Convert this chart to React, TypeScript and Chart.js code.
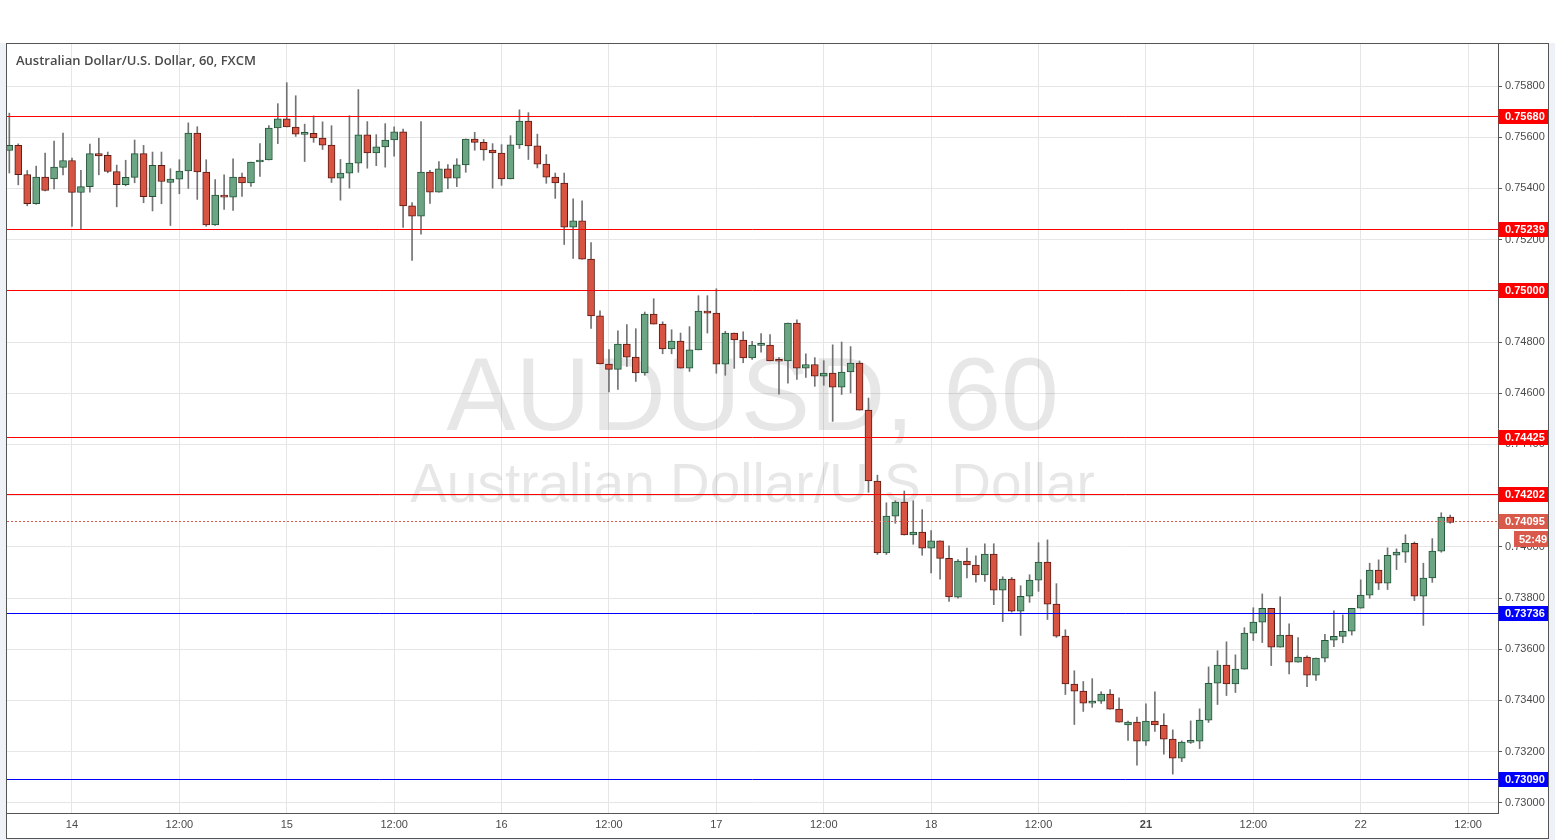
import React, { useEffect, useRef } from "react";
import { Chart, registerables } from "chart.js";

Chart.register(...registerables);

// ---- Data (hourly AUD/USD candles, first candle = 13th 17:00) ----
const opens = [
  0.75548, 0.75568, 0.75454, 0.75340, 0.75444, 0.75437, 0.75482, 0.75509, 0.75384, 0.75407,
  0.75536, 0.75529, 0.75466, 0.75415, 0.75443, 0.75536, 0.75368, 0.75490, 0.75423, 0.75436,
  0.75468, 0.75616, 0.75464, 0.75257, 0.75374, 0.75366, 0.75444, 0.75421, 0.75503, 0.75511,
  0.75636, 0.75672, 0.75640, 0.75611, 0.75615, 0.75597, 0.75569, 0.75440, 0.75460, 0.75499,
  0.75609, 0.75539, 0.75562, 0.75589, 0.75621, 0.75332, 0.75292, 0.75464, 0.75385, 0.75476,
  0.75440, 0.75492, 0.75593, 0.75580, 0.75550, 0.75538, 0.75437, 0.75570, 0.75663, 0.75566,
  0.75495, 0.75444, 0.75421, 0.75249, 0.75273, 0.75124, 0.74902, 0.74714, 0.74693, 0.74792,
  0.74741, 0.74679, 0.74909, 0.74870, 0.74773, 0.74804, 0.74698, 0.74769, 0.74921, 0.74913,
  0.74713, 0.74835, 0.74808, 0.74738, 0.74787, 0.74788, 0.74727, 0.74726, 0.74874, 0.74698,
  0.74712, 0.74667, 0.74679, 0.74624, 0.74683, 0.74718, 0.74534, 0.74257, 0.73976, 0.74120,
  0.74175, 0.74046, 0.74058, 0.73995, 0.74023, 0.73955, 0.73803, 0.73944, 0.73929, 0.73890,
  0.73972, 0.73831, 0.73874, 0.73749, 0.73807, 0.73870, 0.73940, 0.73776, 0.73651, 0.73464,
  0.73436, 0.73389, 0.73397, 0.73425, 0.73366, 0.73304, 0.73315, 0.73241, 0.73319, 0.73303,
  0.73249, 0.73174, 0.73236, 0.73241, 0.73323, 0.73467, 0.73538, 0.73464, 0.73522, 0.73663,
  0.73706, 0.73760, 0.73608, 0.73655, 0.73549, 0.73569, 0.73499, 0.73565, 0.73635, 0.73650,
  0.73670, 0.73760, 0.73811, 0.73909, 0.73858, 0.73967, 0.73979, 0.74014, 0.73807, 0.73878,
  0.73983, 0.74116,
];

const highs = [
  0.75694, 0.75574, 0.75470, 0.75487, 0.75538, 0.75585, 0.75616, 0.75518, 0.75471, 0.75573,
  0.75596, 0.75542, 0.75491, 0.75510, 0.75589, 0.75568, 0.75542, 0.75542, 0.75477, 0.75512,
  0.75656, 0.75641, 0.75512, 0.75434, 0.75453, 0.75516, 0.75460, 0.75503, 0.75575, 0.75645,
  0.75731, 0.75813, 0.75762, 0.75651, 0.75683, 0.75660, 0.75645, 0.75513, 0.75684, 0.75786,
  0.75661, 0.75610, 0.75653, 0.75641, 0.75632, 0.75345, 0.75661, 0.75471, 0.75505, 0.75493,
  0.75516, 0.75593, 0.75619, 0.75591, 0.75575, 0.75571, 0.75606, 0.75707, 0.75696, 0.75612,
  0.75532, 0.75460, 0.75460, 0.75359, 0.75351, 0.75188, 0.74922, 0.74770, 0.74844, 0.74868,
  0.74852, 0.74917, 0.74969, 0.74879, 0.74848, 0.74835, 0.74860, 0.74981, 0.74981, 0.75008,
  0.74842, 0.74835, 0.74840, 0.74803, 0.74833, 0.74829, 0.74739, 0.74874, 0.74887, 0.74754,
  0.74739, 0.74727, 0.74789, 0.74800, 0.74782, 0.74726, 0.74581, 0.74280, 0.74172, 0.74180,
  0.74218, 0.74180, 0.74145, 0.74063, 0.74023, 0.74004, 0.73950, 0.73995, 0.73965, 0.74012,
  0.74012, 0.73883, 0.73880, 0.73848, 0.73891, 0.74016, 0.74027, 0.73856, 0.73676, 0.73516,
  0.73474, 0.73485, 0.73434, 0.73442, 0.73410, 0.73319, 0.73335, 0.73387, 0.73434, 0.73348,
  0.73285, 0.73242, 0.73320, 0.73367, 0.73531, 0.73594, 0.73629, 0.73578, 0.73684, 0.73762,
  0.73816, 0.73760, 0.73805, 0.73699, 0.73645, 0.73574, 0.73565, 0.73658, 0.73750, 0.73734,
  0.73760, 0.73871, 0.73936, 0.73949, 0.73996, 0.73992, 0.74047, 0.74019, 0.73936, 0.74032,
  0.74133, 0.74124,
];

const lows = [
  0.75460, 0.75414, 0.75332, 0.75338, 0.75390, 0.75398, 0.75453, 0.75252, 0.75242, 0.75385,
  0.75453, 0.75461, 0.75328, 0.75410, 0.75422, 0.75344, 0.75312, 0.75340, 0.75255, 0.75379,
  0.75400, 0.75357, 0.75252, 0.75255, 0.75318, 0.75314, 0.75369, 0.75408, 0.75447, 0.75511,
  0.75575, 0.75640, 0.75603, 0.75505, 0.75580, 0.75552, 0.75423, 0.75354, 0.75401, 0.75463,
  0.75479, 0.75489, 0.75483, 0.75526, 0.75248, 0.75119, 0.75221, 0.75341, 0.75385, 0.75399,
  0.75407, 0.75463, 0.75549, 0.75510, 0.75401, 0.75412, 0.75437, 0.75556, 0.75513, 0.75480,
  0.75420, 0.75361, 0.75181, 0.75127, 0.75124, 0.74853, 0.74714, 0.74605, 0.74615, 0.74705,
  0.74646, 0.74670, 0.74870, 0.74754, 0.74754, 0.74698, 0.74685, 0.74769, 0.74835, 0.74678,
  0.74670, 0.74697, 0.74719, 0.74732, 0.74760, 0.74726, 0.74596, 0.74639, 0.74654, 0.74662,
  0.74627, 0.74631, 0.74490, 0.74595, 0.74601, 0.74534, 0.74213, 0.73970, 0.73970, 0.74092,
  0.74046, 0.74010, 0.73967, 0.73898, 0.73874, 0.73787, 0.73799, 0.73878, 0.73862, 0.73865,
  0.73774, 0.73708, 0.73745, 0.73654, 0.73783, 0.73826, 0.73716, 0.73646, 0.73423, 0.73306,
  0.73357, 0.73373, 0.73388, 0.73366, 0.73315, 0.73244, 0.73147, 0.73224, 0.73279, 0.73190,
  0.73112, 0.73161, 0.73232, 0.73212, 0.73314, 0.73384, 0.73419, 0.73431, 0.73522, 0.73634,
  0.73626, 0.73536, 0.73608, 0.73503, 0.73549, 0.73454, 0.73478, 0.73550, 0.73610, 0.73625,
  0.73655, 0.73760, 0.73799, 0.73833, 0.73833, 0.73911, 0.73939, 0.73790, 0.73693, 0.73861,
  0.73979, 0.74092,
];

const closes = [
  0.75568, 0.75454, 0.75340, 0.75444, 0.75392, 0.75483, 0.75509, 0.75384, 0.75407, 0.75536,
  0.75527, 0.75466, 0.75415, 0.75443, 0.75536, 0.75368, 0.75490, 0.75427, 0.75436, 0.75468,
  0.75616, 0.75464, 0.75257, 0.75374, 0.75366, 0.75444, 0.75421, 0.75503, 0.75511, 0.75636,
  0.75672, 0.75640, 0.75612, 0.75616, 0.75597, 0.75569, 0.75440, 0.75460, 0.75499, 0.75609,
  0.75539, 0.75562, 0.75589, 0.75621, 0.75332, 0.75292, 0.75464, 0.75385, 0.75476, 0.75440,
  0.75492, 0.75593, 0.75580, 0.75550, 0.75539, 0.75437, 0.75570, 0.75663, 0.75566, 0.75495,
  0.75444, 0.75421, 0.75249, 0.75273, 0.75124, 0.74902, 0.74714, 0.74693, 0.74792, 0.74741,
  0.74679, 0.74909, 0.74870, 0.74773, 0.74804, 0.74698, 0.74769, 0.74921, 0.74913, 0.74713,
  0.74835, 0.74808, 0.74738, 0.74788, 0.74790, 0.74726, 0.74725, 0.74874, 0.74698, 0.74712,
  0.74667, 0.74679, 0.74624, 0.74683, 0.74718, 0.74534, 0.74257, 0.73976, 0.74120, 0.74175,
  0.74046, 0.74058, 0.73995, 0.74023, 0.73955, 0.73804, 0.73944, 0.73929, 0.73890, 0.73972,
  0.73831, 0.73874, 0.73749, 0.73807, 0.73870, 0.73940, 0.73776, 0.73651, 0.73464, 0.73436,
  0.73389, 0.73397, 0.73425, 0.73366, 0.73315, 0.73315, 0.73241, 0.73319, 0.73304, 0.73249,
  0.73174, 0.73237, 0.73241, 0.73323, 0.73467, 0.73538, 0.73464, 0.73522, 0.73663, 0.73706,
  0.73760, 0.73608, 0.73655, 0.73549, 0.73569, 0.73499, 0.73565, 0.73635, 0.73650, 0.73670,
  0.73760, 0.73811, 0.73909, 0.73858, 0.73967, 0.73979, 0.74014, 0.73807, 0.73878, 0.73983,
  0.74116, 0.74095,
];

// Time axis labels (one every 12 hourly candles, first one at candle index 7 = "14" 00:00)
const xTickLabels = ["14", "12:00", "15", "12:00", "16", "12:00", "17", "12:00", "18", "12:00", "21", "12:00", "22", "12:00"];
const firstTickIndex = 7;
const tickStep = 12;

// Price axis
const yTicks = [0.730, 0.732, 0.734, 0.736, 0.738, 0.740, 0.742, 0.744, 0.746, 0.748, 0.750, 0.752, 0.754, 0.756, 0.758];

// Horizontal levels
const levelValues = [0.7568, 0.75239, 0.75, 0.74425, 0.74202, 0.73736, 0.7309];
const levelKinds = ["resistance", "resistance", "resistance", "resistance", "resistance", "support", "support"];
const lastPrice = 0.74095;
const countdownText = "52:49";

const titleText = "Australian Dollar/U.S. Dollar, 60, FXCM";
const watermarkSymbol = "AUDUSD, 60";
const watermarkName = "Australian Dollar/U.S. Dollar";

// ---- Styles ----
const W = 1555;
const H = 840;
const X_MIN = -0.26;
const X_MAX = 166.34;
const Y_MIN = 0.729602;
const Y_MAX = 0.759680;
const UP_FILL = "#6BA583";
const UP_BORDER = "#225437";
const DOWN_FILL = "#D75442";
const DOWN_BORDER = "#5B1A13";
const WICK = "#737375";
const KIND_COLOR: Record<string, string> = { resistance: "#FF0000", support: "#0000FF" };
const LAST_COLOR = "#D9594A";
const AXIS_FONT = '"Liberation Sans", Arial, sans-serif';

const snap = (y: number) => Math.floor(y - 0.6) + 0.5;

const decorPlugin = {
  id: "decor",
  beforeDraw(chart: any) {
    const ctx = chart.ctx;
    ctx.save();
    ctx.fillStyle = "#ffffff";
    ctx.fillRect(0, 0, W, H);
    ctx.fillStyle = "#eef1f5";
    ctx.fillRect(0, 43, 6, H - 43);
    ctx.fillRect(1549, 43, W - 1549, H - 43);
    ctx.fillRect(0, 839, W, 1);
    ctx.restore();
  },
  beforeDatasetsDraw(chart: any) {
    const ctx = chart.ctx;
    const a = chart.chartArea;
    const cx = (a.left + a.right) / 2;
    const cy = (a.top + a.bottom) / 2;
    ctx.save();
    ctx.fillStyle = "rgba(0,0,0,0.095)";
    ctx.textAlign = "center";
    ctx.textBaseline = "middle";
    ctx.font = `104px ${AXIS_FONT}`;
    ctx.fillText(watermarkSymbol, cx, cy - 27);
    ctx.font = `55px ${AXIS_FONT}`;
    ctx.fillText(watermarkName, cx, cy + 59);
    ctx.restore();
  },
  afterDatasetsDraw(chart: any) {
    // horizontal level lines, positioned through the y scale
    const ctx = chart.ctx;
    const a = chart.chartArea;
    const ys = chart.scales.y;
    ctx.save();
    ctx.lineWidth = 1;
    levelValues.forEach((v, i) => {
      const y = snap(ys.getPixelForValue(v));
      ctx.strokeStyle = KIND_COLOR[levelKinds[i]];
      ctx.beginPath();
      ctx.moveTo(a.left, y);
      ctx.lineTo(a.right, y);
      ctx.stroke();
    });
    const ly = snap(ys.getPixelForValue(lastPrice));
    ctx.strokeStyle = LAST_COLOR;
    ctx.setLineDash([2, 2]);
    ctx.beginPath();
    ctx.moveTo(a.left, ly);
    ctx.lineTo(a.right, ly);
    ctx.stroke();
    ctx.restore();
  },
  afterDraw(chart: any) {
    const ctx = chart.ctx;
    const a = chart.chartArea;
    const ys = chart.scales.y;
    ctx.save();
    // panel frame
    ctx.strokeStyle = "#555555";
    ctx.lineWidth = 1;
    ctx.strokeRect(6.5, 43.5, 1542, 795);
    // title
    ctx.fillStyle = "#4a4a4a";
    ctx.font = `600 13px "Open Sans", "Noto Sans", sans-serif`;
    ctx.textAlign = "left";
    ctx.textBaseline = "alphabetic";
    ctx.fillText(titleText, 16, 65);
    // axis price labels
    const boxX = a.right + 0.5;
    const boxW = 1548 - boxX;
    ctx.font = `bold 11px ${AXIS_FONT}`;
    ctx.textBaseline = "middle";
    levelValues.forEach((v, i) => {
      const y = snap(ys.getPixelForValue(v));
      ctx.fillStyle = KIND_COLOR[levelKinds[i]];
      ctx.fillRect(boxX, y - 7.5, boxW, 15);
      ctx.fillStyle = "#ffffff";
      ctx.fillText(v.toFixed(5), 1505, y + 0.5);
    });
    const ly = snap(ys.getPixelForValue(lastPrice));
    ctx.fillStyle = LAST_COLOR;
    ctx.fillRect(boxX, ly - 7.5, boxW, 15);
    ctx.fillRect(1514, ly + 9.5, 34, 16);
    ctx.fillStyle = "#ffffff";
    ctx.fillText(lastPrice.toFixed(5), 1505, ly + 0.5);
    ctx.fillText(countdownText, 1519, ly + 18);
    ctx.restore();
  },
};

export default function App() {
  const canvasRef = useRef<HTMLCanvasElement | null>(null);

  useEffect(() => {
    const canvas = canvasRef.current;
    if (!canvas) return;
    const idx = opens.map((_, i) => i);
    const isUp = idx.map((i) => closes[i] >= opens[i]);

    const chart = new Chart(canvas, {
      type: "bar",
      data: {
        datasets: [
          {
            type: "bar",
            data: idx.map((i) => ({ x: i, y: [opens[i], closes[i]] })),
            backgroundColor: isUp.map((u) => (u ? UP_FILL : DOWN_FILL)),
            borderColor: isUp.map((u) => (u ? UP_BORDER : DOWN_BORDER)),
            borderWidth: 1,
            borderSkipped: false,
            barThickness: 7,
            minBarLength: 2,
            grouped: false,
            order: 1,
          },
          {
            type: "bar",
            data: idx.map((i) => ({ x: i, y: [lows[i], highs[i]] })),
            backgroundColor: WICK,
            borderWidth: 0,
            barThickness: 1,
            grouped: false,
            order: 2,
          },
        ],
      } as any,
      options: {
        animation: false,
        responsive: false,
        maintainAspectRatio: false,
        events: [],
        layout: { padding: { left: 7, top: 43, right: 7, bottom: 2 } },
        plugins: {
          legend: { display: false },
          tooltip: { enabled: false },
          title: { display: false },
        },
        scales: {
          x: {
            type: "linear",
            min: X_MIN,
            max: X_MAX,
            offset: false,
            afterBuildTicks: (s: any) => {
              s.ticks = xTickLabels.map((_, k) => ({ value: firstTickIndex + k * tickStep }));
            },
            afterFit: (s: any) => {
              s.height = 25;
            },
            ticks: {
              autoSkip: false,
              maxRotation: 0,
              padding: 5,
              color: "#4a4a4a",
              font: (c: any) => ({
                size: 11,
                family: AXIS_FONT,
                weight: c.tick && c.tick.label === "21" ? "bold" : "normal",
              }),
              callback: (_v: any, i: number) => xTickLabels[i],
            },
            grid: { color: "#e6e6e6", drawTicks: false, offset: false },
            border: { color: "#555555" },
          },
          y: {
            type: "linear",
            position: "right",
            min: Y_MIN,
            max: Y_MAX,
            afterBuildTicks: (s: any) => {
              s.ticks = yTicks.map((value) => ({ value }));
            },
            afterFit: (s: any) => {
              s.width = 50;
            },
            ticks: {
              padding: 3,
              color: "#4a4a4a",
              font: { size: 11, family: AXIS_FONT },
              callback: (v: any) => Number(v).toFixed(5),
            },
            grid: { color: "#e6e6e6", tickLength: 4, tickColor: "#555555" },
            border: { color: "#555555" },
          },
        },
      } as any,
      plugins: [decorPlugin],
    });

    return () => chart.destroy();
  }, []);

  return (
    <div style={{ position: "absolute", left: 0, top: 0, width: W, height: H, background: "#fff" }}>
      <canvas ref={canvasRef} width={W} height={H} style={{ width: W, height: H, display: "block" }} />
    </div>
  );
}
